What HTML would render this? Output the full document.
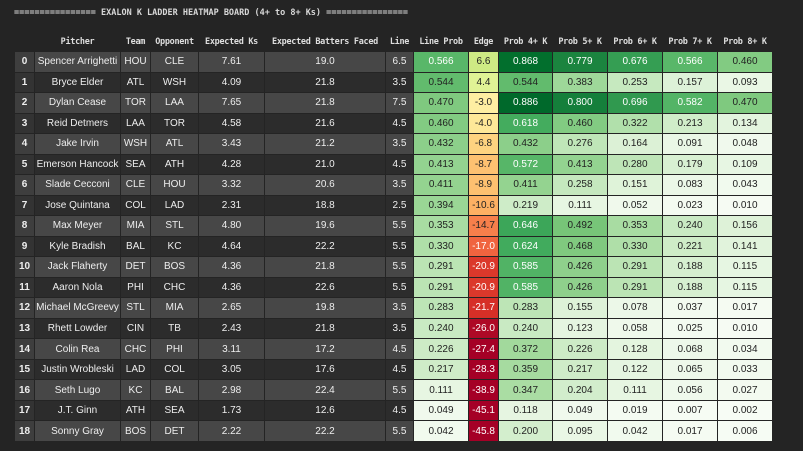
<!DOCTYPE html>
<html><head><meta charset="utf-8">
<style>
html,body{margin:0;padding:0;background:#242424;width:803px;height:451px;overflow:hidden}
#root{position:relative;width:803px;height:451px}
.t{position:absolute;left:14px;top:8px;font:bold 8.5px "DejaVu Sans Mono","Liberation Mono",monospace;color:#d8d8d8;white-space:pre}
.h{position:absolute;top:37px;height:14px;font:bold 8.5px "DejaVu Sans Mono","Liberation Mono",monospace;letter-spacing:-0.3px;color:#dedede;text-align:center;white-space:nowrap}
.c{position:absolute;display:flex;align-items:center;justify-content:center;font:10px "Liberation Sans",sans-serif;color:#eee;white-space:nowrap;overflow:hidden}
.i{font-weight:bold}
</style></head><body>
<div id="root">
<div class="t">================ EXALON K LADDER HEATMAP BOARD (4+ to 8+ Ks) ================</div>
</div>
<script>
const headers=["","Pitcher","Team","Opponent","Expected Ks","Expected Batters Faced","Line","Line Prob","Edge","Prob 4+ K","Prob 5+ K","Prob 6+ K","Prob 7+ K","Prob 8+ K"];
const pitchers=["Spencer Arrighetti","Bryce Elder","Dylan Cease","Reid Detmers","Jake Irvin","Emerson Hancock","Slade Cecconi","Jose Quintana","Max Meyer","Kyle Bradish","Jack Flaherty","Aaron Nola","Michael McGreevy","Rhett Lowder","Colin Rea","Justin Wrobleski","Seth Lugo","J.T. Ginn","Sonny Gray"];
const teams=["HOU","ATL","TOR","LAA","WSH","SEA","CLE","COL","MIA","BAL","DET","PHI","STL","CIN","CHC","LAD","KC","ATH","BOS"];
const opponents=["CLE","WSH","LAA","TOR","ATL","ATH","HOU","LAD","STL","KC","BOS","CHC","MIA","TB","PHI","COL","BAL","SEA","DET"];
const expKs=["7.61","4.09","7.65","4.58","3.43","4.28","3.32","2.31","4.80","4.64","4.36","4.36","2.65","2.43","3.11","3.05","2.98","1.73","2.22"];
const ebf=["19.0","21.8","21.8","21.6","21.2","21.0","20.6","18.8","19.6","22.2","21.8","22.6","19.8","21.8","17.2","17.6","22.4","12.6","22.2"];
const lines=["6.5","3.5","7.5","4.5","3.5","4.5","3.5","2.5","5.5","5.5","5.5","5.5","3.5","3.5","4.5","4.5","5.5","4.5","5.5"];
const lineProb=[0.566,0.544,0.470,0.460,0.432,0.413,0.411,0.394,0.353,0.330,0.291,0.291,0.283,0.240,0.226,0.217,0.111,0.049,0.042];
const edge=[6.6,4.4,-3.0,-4.0,-6.8,-8.7,-8.9,-10.6,-14.7,-17.0,-20.9,-20.9,-21.7,-26.0,-27.4,-28.3,-38.9,-45.1,-45.8];
const p4=[0.868,0.544,0.886,0.618,0.432,0.572,0.411,0.219,0.646,0.624,0.585,0.585,0.283,0.240,0.372,0.359,0.347,0.118,0.200];
const p5=[0.779,0.383,0.800,0.460,0.276,0.413,0.258,0.111,0.492,0.468,0.426,0.426,0.155,0.123,0.226,0.217,0.204,0.049,0.095];
const p6=[0.676,0.253,0.696,0.322,0.164,0.280,0.151,0.052,0.353,0.330,0.291,0.291,0.078,0.058,0.128,0.122,0.111,0.019,0.042];
const p7=[0.566,0.157,0.582,0.213,0.091,0.179,0.083,0.023,0.240,0.221,0.188,0.188,0.037,0.025,0.068,0.065,0.056,0.007,0.017];
const p8=[0.460,0.093,0.470,0.134,0.048,0.109,0.043,0.010,0.156,0.141,0.115,0.115,0.017,0.010,0.034,0.033,0.027,0.002,0.006];

const colX=[15,35,121,151,199,265,386,414,469,499,553,608,663,718];
const colW=[19,85,29,47,65,120,27,54,29,53,54,54,54,54];
const names=["row-index","pitcher","team","opponent","expected-ks","expected-batters-faced","line","line-prob","edge","prob-4-plus","prob-5-plus","prob-6-plus","prob-7-plus","prob-8-plus"];
const greens=["#f7fcf5","#e5f5e0","#c7e9c0","#a1d99b","#74c476","#41ab5d","#238b45","#006d2c","#00441b"];
const rdylgn=["#a50026","#d73027","#f46d43","#fdae61","#fee08b","#ffffbf","#d9ef8b","#a6d96a","#66bd63","#1a9850","#006837"];
function hex(h){return [1,3,5].map(i=>parseInt(h.substr(i,2),16));}
function interp(stops,t){t=Math.max(0,Math.min(1,t));const n=stops.length-1;const k=Math.min(n-1,Math.floor(t*n));const f=t*n-k;const a=hex(stops[k]),b=hex(stops[k+1]);const c=a.map((v,i)=>Math.round(v+(b[i]-v)*f));return {c:`rgb(${c})`,l:(0.299*c[0]+0.587*c[1]+0.114*c[2])};}
const root=document.getElementById('root');
const y0=52,pitch=20.52,rh=19.5;
headers.forEach((h,j)=>{const d=document.createElement('div');d.className='h';d.style.left=colX[j]+'px';d.style.width=colW[j]+'px';d.textContent=h;


root.appendChild(d);});
const probCols=[lineProb,null,p4,p5,p6,p7,p8];
for(let i=0;i<pitchers.length;i++){
  const even=i%2===0;
  const vals=[String(i),pitchers[i],teams[i],opponents[i],expKs[i],ebf[i],lines[i],lineProb[i].toFixed(3),edge[i].toFixed(1),p4[i].toFixed(3),p5[i].toFixed(3),p6[i].toFixed(3),p7[i].toFixed(3),p8[i].toFixed(3)];
  for(let j=0;j<14;j++){
    const d=document.createElement('div');d.className='c'+(j===0?' i':'');
    d.style.left=colX[j]+'px';d.style.width=colW[j]+'px';
    d.style.top=(y0+i*pitch).toFixed(1)+'px';d.style.height=rh+'px';
    let bg=even?'#474747':'#2c2c2c';let fg='#eeeeee';
    if(j===0)bg=even?'#3e3e3e':'#333333';
    if(j>=7){
      let r;
      if(j===8){r=interp(rdylgn,(edge[i]+27)/54);}
      else{const arr=probCols[j-7];r=interp(greens,arr[i]);}
      bg=r.c;fg=r.l<150?'#ffffff':'#222222';
    }
    d.style.background=bg;d.style.color=fg;d.textContent=vals[j];
    
    
    root.appendChild(d);
  }
}
</script>
</body></html>
